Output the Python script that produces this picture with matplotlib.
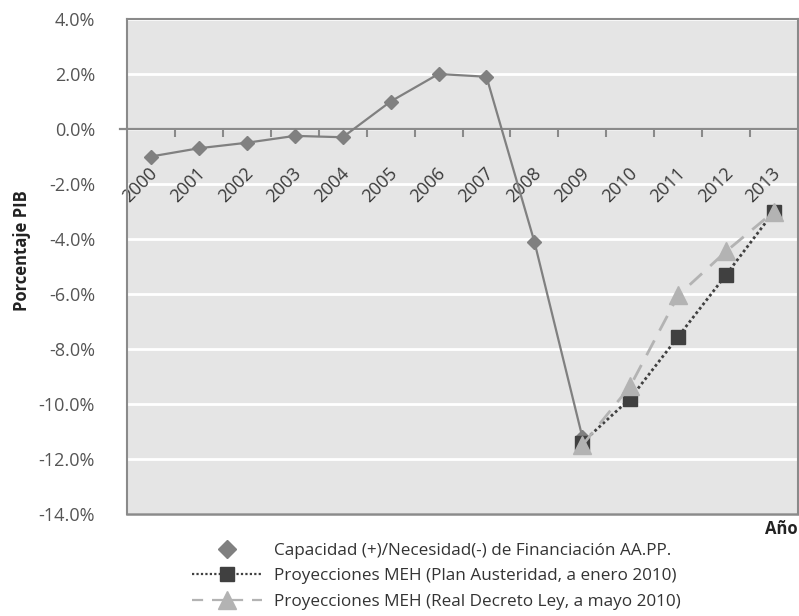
import matplotlib
matplotlib.use('Agg')
import matplotlib.pyplot as plt
import matplotlib.transforms as mtransforms
from matplotlib.lines import Line2D
from matplotlib.ticker import FixedLocator, FuncFormatter

plt.rcParams['font.family'] = ['Open Sans', 'DejaVu Sans']

# ---- data (% of GDP) ----
years = ['2000', '2001', '2002', '2003', '2004', '2005', '2006',
         '2007', '2008', '2009', '2010', '2011', '2012', '2013']
capacidad = [-1.0, -0.7, -0.5, -0.25, -0.3, 1.0, 2.0, 1.9, -4.1, -11.2]
proy_years = ['2009', '2010', '2011', '2012', '2013']
plan_austeridad = [-11.4, -9.8, -7.55, -5.3, -3.0]
real_decreto = [-11.5, -9.35, -6.05, -4.45, -3.0]

labels = ['Capacidad (+)/Necesidad(-) de Financiación AA.PP.',
          'Proyecciones MEH (Plan Austeridad, a enero 2010)',
          'Proyecciones MEH (Real Decreto Ley, a mayo 2010)']

c_main = '#808080'
c_sq = '#404040'
c_tri = '#b3b3b3'
c_axis = '#8a8a8a'
c_txt = '#555555'

W, H = 799, 616
fig = plt.figure(figsize=(W / 100, H / 100), dpi=100)
ax = fig.add_axes([127 / W, 1 - 514 / H, (798 - 127) / W, (514 - 19) / H])

ax.set_facecolor('#e5e5e5')
x_main = [years.index(y) for y in years[:len(capacidad)]]
x_proy = [years.index(y) for y in proy_years]

ax.plot(x_main, capacidad, color=c_main, lw=1.6, marker='D', ms=7.5,
        zorder=3)
ax.plot(x_proy, plan_austeridad, color=c_sq, lw=2.0, ls=(0, (1, 1)),
        marker='s', ms=9.5, zorder=4)
ax.plot(x_proy, real_decreto, color=c_tri, lw=2.0, ls=(0, (6, 4)),
        marker='^', ms=13, zorder=5)

ax.set_xlim(-0.5, len(years) - 0.5)
ax.set_ylim(-14, 4)
ax.yaxis.set_major_locator(FixedLocator([4, 2, 0, -2, -4, -6, -8, -10, -12, -14]))
ax.yaxis.set_major_formatter(FuncFormatter(lambda v, p: f'{v:.1f}%'))
ax.tick_params(axis='y', length=0, pad=23, labelsize=13, labelcolor=c_txt)
ax.grid(axis='y', color='white', lw=2)
ax.set_axisbelow(True)
ax.xaxis.set_zorder(1)  # year labels above the white grid

# x axis sits on the zero line
for s in ['left', 'right', 'top']:
    ax.spines[s].set_color(c_axis)
    ax.spines[s].set_linewidth(1.5)
ax.spines['bottom'].set_position(('data', 0))
ax.spines['bottom'].set_color(c_axis)
ax.spines['bottom'].set_linewidth(1.6)
ax.spines['bottom'].set_zorder(2)
ax.plot([-0.65, -0.5], [0, 0], color=c_axis, lw=1.6, clip_on=False)
ax.plot([-0.5, 13.5], [-14, -14], color=c_axis, lw=1.8, clip_on=False)

ax.set_xticks(range(len(years)))
ax.set_xticklabels(years, rotation=45, ha='right', va='center',
                   rotation_mode='anchor', fontsize=13, color='#3a3a3a')
ax.tick_params(axis='x', which='major', length=0, pad=30)
shift = mtransforms.ScaledTranslation(4 / 100, 0, fig.dpi_scale_trans)
for lab in ax.get_xticklabels():
    lab.set_transform(lab.get_transform() + shift)
ax.set_xticks([i + 0.5 for i in range(len(years) - 1)], minor=True)
ax.tick_params(axis='x', which='minor', length=6, width=1.5,
               color=c_axis, direction='out')

fig.text(22 / W, 1 - 251 / H, 'Porcentaje PIB', rotation=90, ha='center',
         va='center', fontsize=12, fontweight='bold', color='#222222')
fig.text(798 / W, 1 - 529 / H, 'Año', ha='right', va='center',
         fontsize=12, fontweight='bold', color='#222222')

handles = [
    Line2D([], [], color=c_main, ls='none', marker='D', ms=9),
    Line2D([], [], color=c_sq, lw=1.6, ls=(0, (1, 1)), marker='s', ms=10),
    Line2D([], [], color=c_tri, lw=1.6, ls=(0, (5, 4)), marker='^', ms=13),
]
fig.legend(handles, labels, loc='upper left',
           bbox_to_anchor=(192 / W, 1 - 543 / H), frameon=False,
           fontsize=12.3, handlelength=4.1, handletextpad=0.7,
           labelspacing=0.55, borderpad=0, borderaxespad=0,
           labelcolor='#333333')

fig.savefig('out.png', dpi=100)
